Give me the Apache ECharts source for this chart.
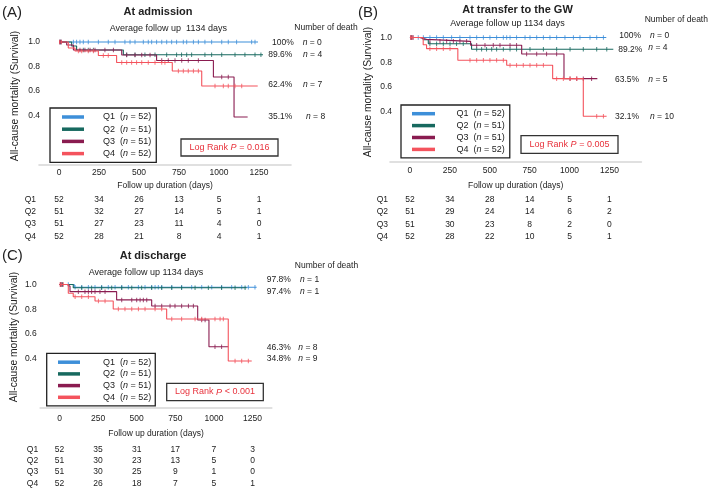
<!DOCTYPE html>
<html><head><meta charset="utf-8">
<script src="https://cdn.jsdelivr.net/npm/echarts@6/dist/echarts.min.js"></script>
<style>html,body{margin:0;padding:0;background:#fff}#c{width:709px;height:488px}</style>
</head><body><div id="c"></div>
<script>
const FONT = "'Liberation Sans', Arial, Helvetica, sans-serif";
const TXT = '#222';

// ---------- shared ----------
const groups = ['Q1', 'Q2', 'Q3', 'Q4'];
const groupN = [52, 51, 51, 52];
const tickDays = [0, 250, 500, 750, 1000, 1250];
const groupColors = ['#3d8fd9', '#17695f', '#8a1c50', '#f4535d'];

// ---------- Panel A: At admission ----------
const aQ1Time = [0, 1244];
const aQ1Surv = [1, 1];
const aQ2Time = [0, 79, 110, 402, 1275];
const aQ2Surv = [1, 0.967, 0.935, 0.896, 0.896];
const aQ3Time = [0, 48, 90, 392, 610, 965, 1094, 1179];
const aQ3Surv = [1, 0.976, 0.935, 0.894, 0.849, 0.714, 0.388, 0.388];
const aQ4Time = [0, 58, 100, 246, 360, 708, 892, 1242];
const aQ4Surv = [1, 0.951, 0.927, 0.89, 0.833, 0.763, 0.641, 0.641];
const aQ1Cens = [6, 14, 90, 110, 131, 152, 183, 246, 308, 350, 412, 444, 475, 527, 558, 579, 610, 642, 673, 704, 735, 777, 798, 840, 871, 912, 954, 1017, 1058, 1110, 1204, 1225];
const aQ2Cens = [8, 152, 183, 215, 423, 475, 537, 600, 673, 735, 766, 798, 829, 912, 954, 1017, 1100, 1162, 1225, 1262];
const aQ3Cens = [5, 12, 131, 162, 194, 225, 287, 340, 423, 475, 517, 569, 642, 683, 725, 767, 808, 871, 1017, 1058];
const aQ4Cens = [4, 15, 121, 142, 183, 215, 277, 308, 392, 423, 454, 485, 517, 558, 600, 642, 662, 746, 777, 808, 840, 871, 975, 1027, 1058, 1100, 1142];
const aRiskQ1 = [52, 34, 26, 13, 5, 1];
const aRiskQ2 = [51, 32, 27, 14, 5, 1];
const aRiskQ3 = [51, 27, 23, 11, 4, 0];
const aRiskQ4 = [52, 28, 21, 8, 4, 1];
const aPct = ['100%', '89.6%', '62.4%', '35.1%'];
const aDeaths = [0, 4, 7, 8];

// ---------- Panel B: At transfer to the GW ----------
const bQ1Time = [0, 1230];
const bQ1Surv = [1, 1];
const bQ2Time = [0, 83, 115, 386, 1274];
const bQ2Surv = [1, 0.982, 0.95, 0.905, 0.905];
const bQ3Time = [0, 60, 104, 380, 700, 965, 1174];
const bQ3Surv = [1, 0.985, 0.969, 0.937, 0.867, 0.668, 0.668];
const bQ4Time = [0, 83, 104, 300, 606, 894, 1086, 1232];
const bQ4Surv = [1, 0.942, 0.91, 0.816, 0.776, 0.668, 0.365, 0.365];
const bQ1Cens = [7, 21, 52, 84, 125, 167, 209, 261, 313, 376, 418, 460, 501, 543, 585, 606, 627, 668, 721, 752, 794, 836, 877, 919, 971, 1024, 1065, 1128, 1170, 1212];
const bQ2Cens = [10, 125, 167, 209, 251, 292, 334, 418, 449, 480, 512, 543, 585, 627, 668, 752, 836, 919, 1003, 1086, 1170, 1233];
const bQ3Cens = [5, 14, 125, 188, 230, 272, 313, 355, 418, 470, 522, 564, 627, 668, 731, 794, 856, 919, 1003, 1045, 1086, 1138];
const bQ4Cens = [4, 12, 20, 125, 167, 209, 251, 376, 418, 460, 501, 543, 585, 627, 668, 710, 752, 794, 836, 919, 961, 1003, 1045, 1170, 1212];
const bRiskQ1 = [52, 34, 28, 14, 5, 1];
const bRiskQ2 = [51, 29, 24, 14, 6, 2];
const bRiskQ3 = [51, 30, 23, 8, 2, 0];
const bRiskQ4 = [52, 28, 22, 10, 5, 1];
const bPct = ['100%', '89.2%', '63.5%', '32.1%'];
const bDeaths = [0, 4, 5, 10];

// ---------- Panel C: At discharge ----------
const cQ1Time = [0, 95, 1277];
const cQ1Surv = [1, 0.978, 0.978];
const cQ2Time = [0, 89, 1212];
const cQ2Surv = [1, 0.974, 0.974];
const cQ3Time = [0, 50, 68, 370, 597, 895, 968, 1093];
const cQ3Surv = [1, 0.985, 0.942, 0.875, 0.826, 0.713, 0.496, 0.496];
const cQ4Time = [0, 57, 89, 230, 348, 694, 1093, 1245];
const cQ4Surv = [1, 0.929, 0.901, 0.866, 0.802, 0.721, 0.381, 0.381];
const cQ1Cens = [14, 57, 101, 144, 187, 230, 273, 316, 360, 403, 446, 511, 554, 597, 619, 640, 662, 727, 791, 856, 921, 986, 1050, 1115, 1180, 1223, 1266];
const cQ2Cens = [8, 20, 144, 208, 273, 338, 403, 468, 532, 597, 662, 727, 791, 878, 964, 1050, 1137, 1202];
const cQ3Cens = [6, 16, 122, 165, 187, 208, 230, 262, 295, 403, 468, 500, 522, 543, 565, 619, 662, 716, 748, 791, 835, 867, 921, 943, 1007, 1050];
const cQ4Cens = [4, 11, 25, 101, 144, 187, 252, 295, 381, 424, 468, 511, 554, 619, 662, 727, 791, 878, 921, 1007, 1040, 1061, 1137, 1180, 1223];
const cRiskQ1 = [52, 35, 31, 17, 7, 3];
const cRiskQ2 = [51, 30, 23, 13, 5, 0];
const cRiskQ3 = [51, 30, 25, 9, 1, 0];
const cRiskQ4 = [52, 26, 18, 7, 5, 1];
const cPct = ['97.8%', '97.4%', '46.3%', '34.8%'];
const cDeaths = [1, 1, 8, 9];

// ---------- panel assembly (data refs + layout) ----------
const panels = [
  {
    label: '(A)', title: 'At admission', subtitle: 'Average follow up  1134 days', pText: ' = 0.016',
    times: [aQ1Time, aQ2Time, aQ3Time, aQ4Time], survs: [aQ1Surv, aQ2Surv, aQ3Surv, aQ4Surv],
    cens: [aQ1Cens, aQ2Cens, aQ3Cens, aQ4Cens], risk: [aRiskQ1, aRiskQ2, aRiskQ3, aRiskQ4],
    pct: aPct, deaths: aDeaths,
    L: {
      grid: [39, 35.9, 252, 128.6], xmax: 1450, xLabMargin: 8.5, xNameGap: 21.5,
      riskOff: [34.8, 47.2, 59.5, 72.2], rowGap: 3, yLabMargin: -1,
      legend: { left: 50, top: 108, pad: [3.5, 5, 3.2, 12], iw: 22, gap: 1.2, sp: 14 },
      lab: [2, 13], title: [158, 12.3], sub: [168.3, 28.3], nod: [326, 28], yname: [15, 96],
      lr: [181, 139, 97, 17],
      pctX: [272, 268.3, 268.3, 268.3], annY: [43, 55, 84.3, 117], nX: [302.7, 303, 303, 306], nY: [43, 55, 84.3, 117]
    }
  },
  {
    label: '(B)', title: 'At transfer to the GW', subtitle: 'Average follow up 1134 days', pText: ' = 0.005',
    times: [bQ1Time, bQ2Time, bQ3Time, bQ4Time], survs: [bQ1Surv, bQ2Surv, bQ3Surv, bQ4Surv],
    cens: [bQ1Cens, bQ2Cens, bQ3Cens, bQ4Cens], risk: [bRiskQ1, bRiskQ2, bRiskQ3, bRiskQ4],
    pct: bPct, deaths: bDeaths,
    L: {
      grid: [390, 31.3, 251.4, 130.2], xmax: 1450, xLabMargin: 9.2, xNameGap: 24.5,
      riskOff: [37.8, 50.2, 62.8, 75.2], rowGap: 2, yLabMargin: -2,
      legend: { left: 401, top: 105, pad: [3.2, 5, 3, 11], iw: 23, gap: 0.9, sp: 16.5 },
      lab: [358, 13.3], title: [517.5, 10], sub: [507.5, 24], nod: [676.3, 20], yname: [368, 92],
      lr: [521, 135.7, 97, 17.6],
      pctX: [619.3, 618.3, 615, 615], annY: [35.7, 49.3, 80, 116.7], nX: [650, 648.3, 648.3, 650], nY: [35.7, 47.7, 80, 116.7]
    }
  },
  {
    label: '(C)', title: 'At discharge', subtitle: 'Average follow up 1134 days', pText: ' < 0.001',
    times: [cQ1Time, cQ2Time, cQ3Time, cQ4Time], survs: [cQ1Surv, cQ2Surv, cQ3Surv, cQ4Surv],
    cens: [cQ1Cens, cQ2Cens, cQ3Cens, cQ4Cens], risk: [cRiskQ1, cRiskQ2, cRiskQ3, cRiskQ4],
    pct: cPct, deaths: cDeaths,
    L: {
      grid: [40.2, 278.3, 231.6, 129.7], xmax: 1375, xLabMargin: 10.3, xNameGap: 25.3,
      riskOff: [41.3, 52.7, 64, 75.7], rowGap: 2, yLabMargin: 3.5,
      legend: { left: 46.7, top: 353.3, pad: [3.4, 4, 3, 11.3], iw: 22, gap: 0.7, sp: 18 },
      lab: [2, 256], title: [153, 256], sub: [146, 273], nod: [326.5, 266], yname: [14.5, 337],
      lr: [166.7, 383.3, 96.6, 17.4],
      pctX: [266.7, 266.7, 266.7, 266.7], annY: [280, 291.7, 347.3, 359], nX: [300, 300, 298.3, 298.3], nY: [280, 291.7, 347.3, 359]
    }
  }
];

function survAt(times, survs, t) {
  let s = survs[0];
  for (let i = 0; i < times.length; i++) if (times[i] <= t) s = survs[i];
  return s;
}

function txt(x, y, text, o) {
  o = o || {};
  return {
    type: 'text', x: x, y: y, rotation: o.rot || 0, silent: true, z: 100,
    style: {
      text: text, fill: o.color || TXT, fontSize: o.size || 8.5, fontFamily: FONT,
      fontWeight: o.weight || 'normal', fontStyle: 'normal',
      align: o.align || 'left', verticalAlign: 'middle',
      textAlign: o.align || 'left', textVerticalAlign: 'middle',
      rich: o.rich
    }
  };
}

const option = {
  animation: false, backgroundColor: '#fff',
  grid: [], xAxis: [], yAxis: [], series: [], legend: [], graphic: []
};

panels.forEach((p, k) => {
  const L = p.L;
  option.grid.push({ left: L.grid[0], top: L.grid[1], width: L.grid[2], height: L.grid[3], containLabel: false, outerBoundsMode: 'none', show: false });
  option.yAxis.push({
    type: 'value', gridIndex: k, min: 0, max: 1.05, interval: 0.2,
    axisLine: { show: false }, axisTick: { show: false }, splitLine: { show: false },
    axisLabel: { margin: L.yLabMargin, fontSize: 8.5, color: TXT, fontFamily: FONT,
      formatter: v => (v > 0.39 && v < 1.01) ? v.toFixed(1) : '' }
  });
  const xBase = option.xAxis.length;
  option.xAxis.push({
    type: 'value', gridIndex: k, min: -125, max: L.xmax, interval: 125, position: 'bottom',
    axisLine: { show: true, onZero: false, lineStyle: { color: '#d6d6d6', width: 1.6 } },
    axisTick: { show: false }, splitLine: { show: false },
    axisLabel: { margin: L.xLabMargin, verticalAlign: 'middle', fontSize: 8.5, color: TXT, fontFamily: FONT,
      formatter: v => tickDays.indexOf(v) >= 0 ? String(v) : '' },
    name: 'Follow up duration (days)', nameLocation: 'middle', nameGap: L.xNameGap, nameMoveOverlap: false,
    nameTextStyle: { fontSize: 8.5, color: TXT, fontFamily: FONT, verticalAlign: 'middle' }
  });
  groups.forEach((g, gi) => {
    const row = p.risk[gi];
    option.xAxis.push({
      type: 'value', gridIndex: k, min: -125, max: L.xmax, interval: 125, position: 'bottom', offset: L.riskOff[gi],
      axisLine: { show: false, onZero: false }, axisTick: { show: false }, splitLine: { show: false },
      axisLabel: { margin: 0, verticalAlign: 'middle', fontSize: 8.5, color: TXT, fontFamily: FONT,
        formatter: v => { const i = tickDays.indexOf(v); return i >= 0 ? String(row[i]) : ''; } },
      name: g, nameLocation: 'start', nameGap: L.rowGap, nameMoveOverlap: false,
      nameTextStyle: { fontSize: 8.5, color: TXT, fontFamily: FONT, verticalAlign: 'middle', align: 'right' }
    });
  });
  groups.forEach((g, gi) => {
    const t = p.times[gi], s = p.survs[gi];
    option.series.push({
      type: 'line', name: g, xAxisIndex: xBase, yAxisIndex: k, step: 'end', symbol: 'none',
      color: groupColors[gi], lineStyle: { width: 1.1, color: groupColors[gi] },
      data: t.map((d, i) => [d, s[i]]), z: 2 + gi, clip: false
    });
    option.series.push({
      type: 'scatter', name: 'cens-' + k + '-' + g, xAxisIndex: xBase, yAxisIndex: k,
      symbol: 'rect', symbolSize: [1, 4.5], itemStyle: { color: groupColors[gi] }, z: 2 + gi,
      data: p.cens[gi].map(d => [d, survAt(t, s, d)]), silent: true
    });
  });
  const lg = L.legend;
  option.legend.push({
    orient: 'vertical', left: lg.left, top: lg.top, padding: lg.pad, itemWidth: lg.iw, itemHeight: 3.5, itemGap: lg.gap,
    icon: 'rect', borderColor: '#222', borderWidth: 1.3, borderRadius: 0, backgroundColor: '#fff',
    selectedMode: false, data: groups.slice(),
    textStyle: { fontSize: 9, lineHeight: 11, color: TXT, fontFamily: FONT,
      rich: { sp: { width: lg.sp, fontSize: 9, lineHeight: 11 },
              t: { fontSize: 9, lineHeight: 11, color: TXT, fontFamily: FONT },
              i: { fontSize: 9, lineHeight: 11, color: TXT, fontFamily: FONT, fontStyle: 'italic' } } },
    formatter: name => '{sp|}{t|' + name + '  (}{i|n}{t| = ' + groupN[groups.indexOf(name)] + ')}'
  });
  const G = option.graphic;
  G.push(txt(L.lab[0], L.lab[1], p.label, { size: 15 }));
  G.push(txt(L.title[0], L.title[1], p.title, { size: 11, weight: 'bold', align: 'center' }));
  G.push(txt(L.sub[0], L.sub[1], p.subtitle, { size: 9, align: 'center' }));
  G.push(txt(L.nod[0], L.nod[1], 'Number of death', { size: 8.5, align: 'center' }));
  G.push(txt(L.yname[0], L.yname[1], 'All-cause mortality (Survival)', { size: 10.3, align: 'center', rot: Math.PI / 2 }));
  G.push({ type: 'rect', silent: true, z: 90, shape: { x: L.lr[0], y: L.lr[1], width: L.lr[2], height: L.lr[3] },
    style: { fill: '#fff', stroke: '#333', lineWidth: 1.3 } });
  G.push(txt(L.lr[0] + L.lr[2] / 2, L.lr[1] + L.lr[3] / 2, '{r|Log Rank }{ri|P}{r|' + p.pText + '}', {
    align: 'center', color: '#e8323c',
    rich: { r: { fontSize: 9, fontFamily: FONT, fill: '#e8323c', color: '#e8323c' },
            ri: { fontSize: 9, fontFamily: FONT, fill: '#e8323c', color: '#e8323c', fontStyle: 'italic' } }
  }));
  for (let gi = 0; gi < 4; gi++) {
    G.push(txt(L.pctX[gi], L.annY[gi], p.pct[gi], { size: 8.5 }));
    G.push(txt(L.nX[gi], L.nY[gi], '{i|n}{t| = ' + p.deaths[gi] + '}', {
      rich: { i: { fontSize: 8.5, fontFamily: FONT, fontStyle: 'italic', fill: TXT, color: TXT },
              t: { fontSize: 8.5, fontFamily: FONT, fill: TXT, color: TXT } }
    }));
  }
});

const chart = echarts.init(document.getElementById('c'), null, { renderer: 'canvas' });
chart.setOption(option);
</script></body></html>
